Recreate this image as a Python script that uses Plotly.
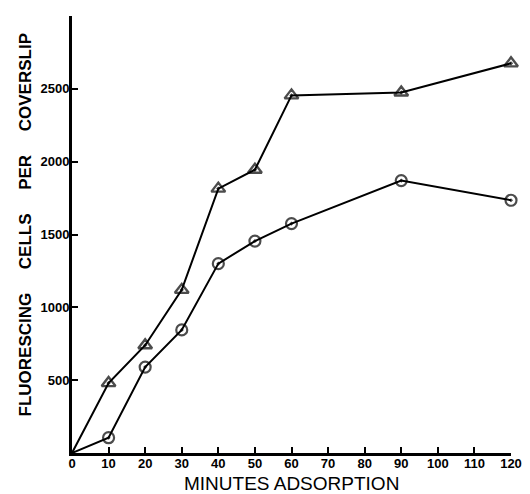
import plotly.graph_objects as go

minutes = [0, 10, 20, 30, 40, 50, 60, 90, 120]
triangle_counts = [0, 480, 740, 1120, 1815, 1945, 2455, 2475, 2675]
circle_counts = [0, 105, 590, 845, 1300, 1455, 1575, 1870, 1735]

x_ticks = [0, 10, 20, 30, 40, 50, 60, 70, 80, 90, 100, 110, 120]
x_tick_text = ["0", "10", "20", "30", "40", "50", "60", "70", "80", "90", "100", "110", "120"]
y_ticks = [500, 1000, 1500, 2000, 2500, 3000]
y_tick_text = ["500", "1000", "1500", "2000", "2500", ""]

sizes_tri = [0] + [12] * (len(minutes) - 1)
sizes_cir = [0] + [11] * (len(minutes) - 1)

fig = go.Figure()
fig.add_trace(go.Scatter(
    x=minutes, y=triangle_counts, mode="lines+markers",
    line=dict(color="black", width=2),
    marker=dict(symbol="triangle-up-open-dot", size=sizes_tri, color="black",
                line=dict(color="black", width=2.4)),
    cliponaxis=False, showlegend=False,
))
fig.add_trace(go.Scatter(
    x=minutes, y=circle_counts, mode="lines+markers",
    line=dict(color="black", width=2),
    marker=dict(symbol="circle-open-dot", size=sizes_cir, color="black",
                line=dict(color="black", width=2.2)),
    cliponaxis=False, showlegend=False,
))

tick_font = dict(family="Liberation Sans, Arial, sans-serif", size=13, color="black", weight="bold")
gap = "\u00a0" * 5

fig.update_layout(
    width=522, height=486,
    margin=dict(l=64, r=12, t=8, b=41),
    paper_bgcolor="white", plot_bgcolor="white",
    xaxis=dict(
        range=[0, 120], tickmode="array", tickvals=x_ticks, ticktext=x_tick_text,
        ticks="inside", ticklen=6, tickwidth=2, tickcolor="black",
        showline=True, linewidth=3, linecolor="black", showgrid=False, zeroline=False,
        tickfont=tick_font, ticklabelstandoff=-4,
    ),
    yaxis=dict(
        range=[0, 3000], tickmode="array", tickvals=y_ticks, ticktext=y_tick_text,
        ticks="inside", ticklen=6, tickwidth=2, tickcolor="black",
        showline=True, linewidth=3, linecolor="black", showgrid=False, zeroline=False,
        tickfont=tick_font, ticklabelstandoff=-3,
    ),
    annotations=[
        dict(text="MINUTES ADSORPTION", xref="paper", yref="paper",
             x=0.5, y=0, xanchor="center", yanchor="middle", yshift=-30,
             showarrow=False,
             font=dict(family="Liberation Sans, Arial, sans-serif", size=19, color="black")),
        dict(text="FLUORESCING" + gap + "CELLS" + gap + "PER" + gap + "COVERSLIP",
             xref="paper", yref="paper",
             x=0, y=0.5, xanchor="center", yanchor="middle", xshift=-47, yshift=10,
             textangle=-90, showarrow=False,
             font=dict(family="Liberation Sans, Arial, sans-serif", size=17, color="black", weight="bold")),
    ],
)

fig.write_html("out.html")
